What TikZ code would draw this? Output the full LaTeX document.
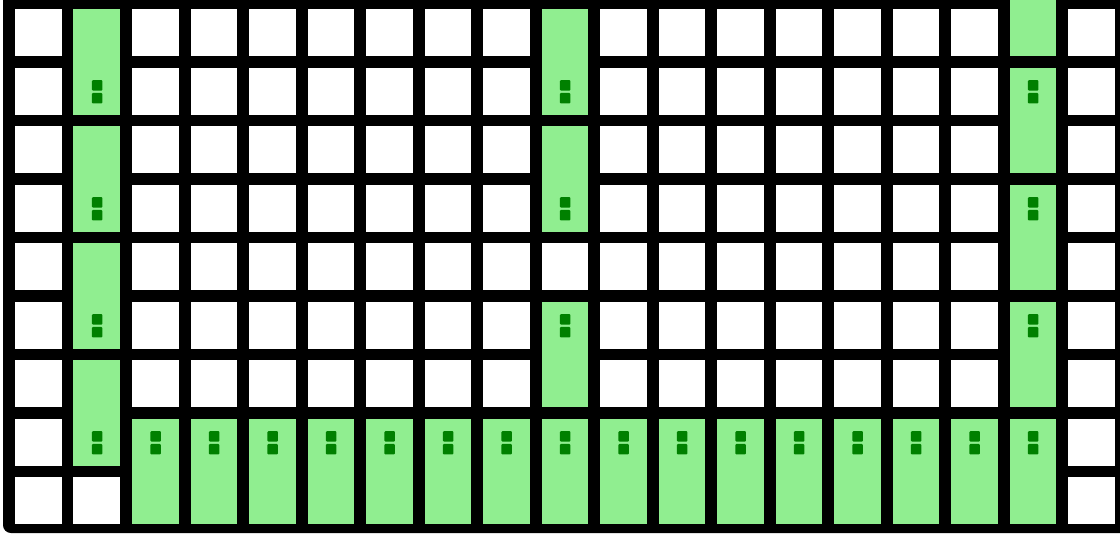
\documentclass[tikz,border=0pt]{standalone}
\usepackage{tikz}

\definecolor{snakegreen}{HTML}{90EE90}
\definecolor{eyegreen}{HTML}{008000}

\begin{document}
\begin{tikzpicture}[
  x=1.17cm, y=-1.17cm,
  cell/.style={fill=white},
  body/.style={fill=snakegreen},
  eye/.style={fill=eyegreen, rounded corners=0.6pt}
]
  \useasboundingbox (-0.2564,-0.159) rectangle (18.889,8.986);
  \clip (-0.2564,-0.159) rectangle (18.889,8.986);
  % board
  \fill[black, rounded corners=4.5pt] (-0.205,-1) rectangle (19.5,8.952);
  % empty cells
  \foreach \i in {0,...,18}
    \foreach \j in {0,...,8}
      \fill[cell] (\i,\j) rectangle ++(0.8,0.8);
  % snake pieces: column / top row / eye row
  \foreach \c/\r/\e in {1/0/1, 1/2/3, 1/4/5, 1/6/7,
      9/0/1, 9/2/3, 9/5/5,
      17/1/1, 17/3/3, 17/5/5,
      2/7/7, 3/7/7, 4/7/7, 5/7/7, 6/7/7, 7/7/7, 8/7/7, 9/7/7,
      10/7/7, 11/7/7, 12/7/7, 13/7/7, 14/7/7, 15/7/7, 16/7/7, 17/7/7}{
    \fill[body] (\c,\r) rectangle ++(0.8,1.8);
    \fill[eye] (\c+0.315,\e+0.21) rectangle ++(0.18,0.18);
    \fill[eye] (\c+0.315,\e+0.43) rectangle ++(0.18,0.18);
  }
  % piece running off the top
  \fill[body] (17,-1) rectangle ++(0.8,1.8);
\end{tikzpicture}
\end{document}
